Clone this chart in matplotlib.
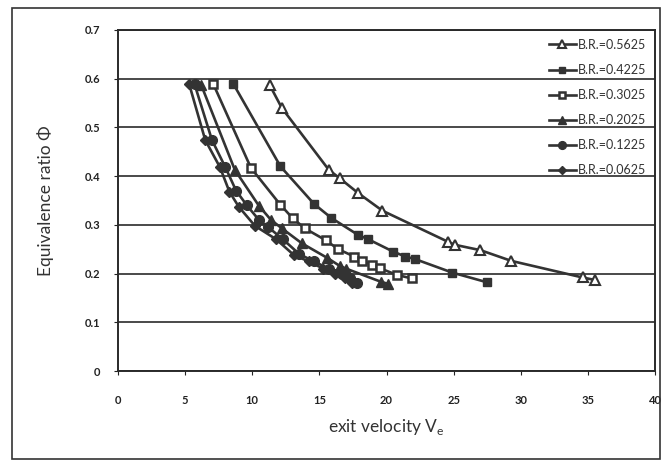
import matplotlib
matplotlib.use("Agg")
import matplotlib.pyplot as plt
from matplotlib.patches import Rectangle

plt.rcParams['font.family'] = ['Lato', 'DejaVu Sans']

labels = ["B.R.=0.5625", "B.R.=0.4225", "B.R.=0.3025", "B.R.=0.2025", "B.R.=0.1225", "B.R.=0.0625"]

x_0625 = [11.3, 12.2, 15.7, 16.5, 17.9, 19.7, 24.6, 25.1, 27.0, 29.3, 34.6, 35.5]
y_0625 = [0.587, 0.54, 0.413, 0.396, 0.365, 0.329, 0.265, 0.259, 0.248, 0.226, 0.192, 0.187]

x_4225 = [8.6, 12.1, 14.6, 15.9, 17.9, 18.6, 20.5, 21.4, 22.1, 24.9, 27.5]
y_4225 = [0.589, 0.42, 0.343, 0.314, 0.279, 0.271, 0.245, 0.235, 0.23, 0.202, 0.182]

x_3025 = [7.1, 9.9, 12.1, 13.0, 13.9, 15.5, 16.4, 17.6, 18.2, 18.9, 19.5, 20.8, 21.9]
y_3025 = [0.589, 0.417, 0.341, 0.314, 0.293, 0.268, 0.25, 0.235, 0.226, 0.218, 0.211, 0.197, 0.19]

x_2025 = [6.2, 8.7, 10.5, 11.4, 12.2, 13.7, 15.6, 16.5, 17.0, 19.6, 20.1]
y_2025 = [0.587, 0.413, 0.339, 0.31, 0.293, 0.262, 0.232, 0.216, 0.21, 0.183, 0.179]

x_1225 = [5.7, 7.0, 8.0, 8.8, 9.6, 10.5, 11.2, 12.3, 13.5, 14.6, 15.7, 16.7, 17.3, 17.8]
y_1225 = [0.589, 0.474, 0.418, 0.37, 0.34, 0.31, 0.295, 0.27, 0.24, 0.225, 0.21, 0.2, 0.19, 0.18]

x_0625b = [5.3, 6.5, 7.6, 8.3, 9.0, 10.2, 11.8, 13.1, 14.2, 15.3, 16.2, 16.9, 17.4]
y_0625b = [0.589, 0.474, 0.418, 0.368, 0.337, 0.298, 0.27, 0.238, 0.225, 0.21, 0.2, 0.19, 0.18]

xs = [x_0625, x_4225, x_3025, x_2025, x_1225, x_0625b]
ys = [y_0625, y_4225, y_3025, y_2025, y_1225, y_0625b]

xticks = [0, 5, 10, 15, 20, 25, 30, 35, 40]
yticks = [0, 0.1, 0.2, 0.3, 0.4, 0.5, 0.6, 0.7]
ytick_labels = ["0", "0.1", "0.2", "0.3", "0.4", "0.5", "0.6", "0.7"]

dark = "#333333"
styles = [
    dict(marker="^", mfc="white", mec=dark, ms=7, mew=1.5),
    dict(marker="s", mfc=dark, mec=dark, ms=6),
    dict(marker="s", mfc="white", mec=dark, ms=6, mew=1.8),
    dict(marker="^", mfc=dark, mec=dark, ms=7),
    dict(marker="o", mfc=dark, mec=dark, ms=7),
    dict(marker="D", mfc=dark, mec=dark, ms=5.5),
]

fig = plt.figure(figsize=(6.61, 4.62), dpi=100)
fig.patch.set_facecolor("white")
fig.add_artist(Rectangle((12/661, 1-459/462), 660/661-12/661, (459-8)/462,
                         transform=fig.transFigure, fill=False, ec="#333333", lw=1.2))

ax = fig.add_axes([118/661, 1-371/462, (655-118)/661, (371-30)/462])

for x, y, lab, st in zip(xs, ys, labels, styles):
    ax.plot(x, y, color=dark, lw=1.9, label=lab, **st)

ax.set_xlim(0, 40)
ax.set_ylim(0, 0.7)
ax.set_xticks(xticks)
ax.set_xticklabels([str(t) for t in xticks])
ax.set_yticks(yticks)
ax.set_yticklabels(ytick_labels)
ax.yaxis.grid(True, color="#2a2a2a", lw=1.2)
ax.set_axisbelow(True)
for s in ax.spines.values():
    s.set_color("#2a2a2a")
    s.set_linewidth(1.4)
ax.tick_params(axis="both", labelsize=8, colors="#222222", length=3, direction="out")
for lbl in ax.get_xticklabels() + ax.get_yticklabels():
    lbl.set_fontweight("bold")
ax.tick_params(axis="x", pad=14)
ax.tick_params(axis="y", pad=10)

ax.set_xlabel(r"exit velocity V$_\mathregular{e}$", fontsize=12.5, color="#333333", labelpad=8)
ax.set_ylabel("Equivalence ratio Φ", fontsize=12.5, color="#333333", labelpad=22)

leg = ax.legend(loc="upper right", frameon=False, fontsize=9, handlelength=2.2,
                handletextpad=0.15, labelspacing=1.05, borderaxespad=0.3,
                markerscale=0.8, bbox_to_anchor=(1.0, 1.0))
for t in leg.get_texts():
    t.set_color("#333333")

fig.savefig("out.png", dpi=100, facecolor="white")
